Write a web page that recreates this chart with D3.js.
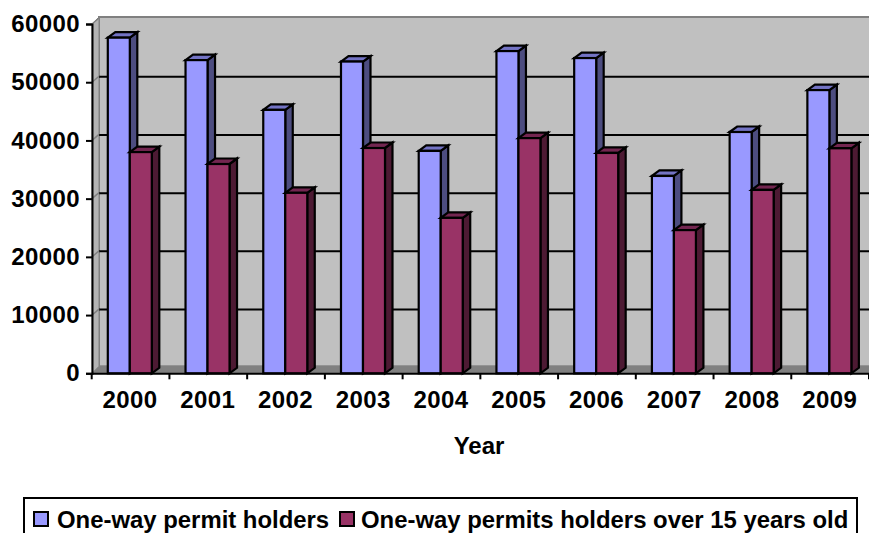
<!DOCTYPE html>
<html>
<head>
<meta charset="utf-8">
<script src="https://d3js.org/d3.v7.min.js"></script>
<style>
    html, body { margin: 0; padding: 0; background: #fff; overflow: hidden; }
    svg { display: block; }
    text { font-family: "Liberation Sans", Arial, sans-serif; font-weight: bold; fill: #000; }
    .axisLabels text { font-size: 24px; letter-spacing: 0.4px; }
</style>
</head>
<body>
<div id="chart"></div>
<script>
const years = ["2000", "2001", "2002", "2003", "2004", "2005", "2006", "2007", "2008", "2009"]
const holders = [57650, 53800, 45250, 53550, 38200, 55350, 54150, 33900, 41450, 48650]
const holdersOver15 = [38000, 35950, 31000, 38700, 26700, 40400, 37850, 24600, 31500, 38650]
const yTicks = [0, 10000, 20000, 30000, 40000, 50000, 60000]
const seriesNames = ["One-way permit holders", "One-way permits holders over 15 years old"]

const width = 869
const height = 533
const depth = 7
const barDepthX = 7.5
const barDepthY = 5.5
const gridDrop = 6
const frame = { left: 92, right: 869, top: 24, bottom: 373.3 }

const colors = [
    { front: "#9999ff", side: "#4d4d80", top: "#7373c4" },
    { front: "#993366", side: "#4d1a33", top: "#732650" },
]

const svg = d3.select("div#chart").append("svg").attr("width", width).attr("height", height)

const x = d3.scaleBand().domain(years).range([91.2, 868.5])
const xEdges = d3.scaleLinear().domain([0, years.length]).range([91.2, 868.5])
const y = d3.scaleLinear().domain([0, 60000]).range([frame.bottom, frame.top])
const barWidth = 22
const barOffset = 16.6

// walls and floor
const walls = svg.append("g").attr("class", "walls")
walls.append("rect")
    .attr("x", frame.left + depth).attr("y", frame.top - depth)
    .attr("width", frame.right - frame.left).attr("height", frame.bottom - frame.top)
    .attr("fill", "#c0c0c0").attr("stroke", "#808080").attr("stroke-width", 2)
walls.append("path")
    .attr("d", `M${frame.left},${frame.top}L${frame.left + depth},${frame.top - depth}V${frame.bottom - depth}L${frame.left},${frame.bottom}Z`)
    .attr("fill", "#b4b4b4").attr("stroke", "#808080")
walls.append("path")
    .attr("d", `M${frame.left},${frame.bottom}L${frame.left + depth},${frame.bottom - depth}H${width}V${frame.bottom}Z`)
    .attr("fill", "#808080")

// gridlines on the back wall
const grid = d3.axisRight(y).tickValues(yTicks.slice(1, -1)).tickSize(width).tickFormat("")
svg.append("g").attr("class", "grid")
    .attr("transform", `translate(${frame.left + depth}, ${-gridDrop})`)
    .call(grid)
    .call(g => g.select(".domain").remove())
    .selectAll("line").attr("stroke", "#000").attr("stroke-width", 2)

svg.append("g").attr("class", "gridDiagonals").selectAll("line").data(yTicks.slice(1)).enter()
    .append("line")
    .attr("x1", frame.left).attr("y1", d => y(d))
    .attr("x2", frame.left + depth).attr("y2", d => y(d) - gridDrop)
    .attr("stroke", "#808080").attr("stroke-width", 1.5)

// bars
const barsData = []
years.forEach((year, i) => {
    barsData.push({ year: year, value: holders[i], serie: 0 })
    barsData.push({ year: year, value: holdersOver15[i], serie: 1 })
})

const bars = svg.append("g").attr("class", "elementGroup").selectAll("g").data(barsData).enter()
    .append("g").attr("class", "bar")
    .attr("stroke", "#000").attr("stroke-width", 2.2).attr("stroke-linejoin", "miter")

const barLeft = d => x(d.year) + barOffset + d.serie * barWidth

bars.append("path")
    .attr("fill", d => colors[d.serie].side)
    .attr("d", d => {
        const right = barLeft(d) + barWidth
        return `M${right},${y(d.value)}L${right + barDepthX},${y(d.value) - barDepthY}V${frame.bottom - barDepthY}L${right},${frame.bottom}Z`
    })
bars.append("path")
    .attr("fill", d => colors[d.serie].top)
    .attr("d", d => {
        const left = barLeft(d)
        return `M${left},${y(d.value)}L${left + barDepthX},${y(d.value) - barDepthY}H${left + barWidth + barDepthX}L${left + barWidth},${y(d.value)}Z`
    })
bars.append("rect")
    .attr("fill", d => colors[d.serie].front)
    .attr("x", d => barLeft(d))
    .attr("y", d => y(d.value))
    .attr("width", barWidth)
    .attr("height", d => frame.bottom - y(d.value))

// axes
const yAxis = d3.axisLeft(y).tickValues(yTicks).tickFormat(d3.format("d")).tickSize(6).tickPadding(6)
svg.append("g").attr("class", "yAxisGroup axisLabels")
    .attr("transform", `translate(${frame.left}, 0)`)
    .call(yAxis)
    .call(g => g.selectAll("line,path").attr("stroke", "#000").attr("stroke-width", 2))
    .call(g => g.selectAll("text").attr("fill", "#000"))

const xTicks = d3.axisBottom(xEdges).tickValues(d3.range(years.length + 1)).tickSize(6).tickFormat("").tickSizeOuter(0)
svg.append("g").attr("class", "xTickGroup")
    .attr("transform", `translate(0, ${frame.bottom})`)
    .call(xTicks)
    .call(g => g.selectAll("line,path").attr("stroke", "#000").attr("stroke-width", 2))

const xAxis = d3.axisBottom(x).tickSize(0).tickPadding(18)
svg.append("g").attr("class", "xAxisGroup axisLabels")
    .attr("transform", `translate(0, ${frame.bottom})`)
    .call(xAxis)
    .call(g => g.select(".domain").remove())
    .call(g => g.selectAll("text").attr("fill", "#000"))

svg.append("text").attr("x", 479).attr("y", 454).attr("text-anchor", "middle")
    .style("font-size", "24px").text("Year")

// legend
const legend = svg.append("g").attr("class", "legend")
legend.append("rect")
    .attr("x", 24).attr("y", 498).attr("width", 833).attr("height", 50)
    .attr("fill", "#fff").attr("stroke", "#000").attr("stroke-width", 2)

const legendX = [34, 340]
const legendTextX = [23, 21]
const legendItems = legend.selectAll("g").data(seriesNames).enter().append("g")
    .attr("transform", (d, i) => `translate(${legendX[i]}, 512)`)
legendItems.append("rect")
    .attr("width", 14).attr("height", 14)
    .attr("fill", (d, i) => colors[i].front).attr("stroke", "#000").attr("stroke-width", 2)
legendItems.append("text")
    .attr("x", (d, i) => legendTextX[i]).attr("y", 15.5).style("font-size", "23.9px")
    .text(d => d)
</script>
</body>
</html>
